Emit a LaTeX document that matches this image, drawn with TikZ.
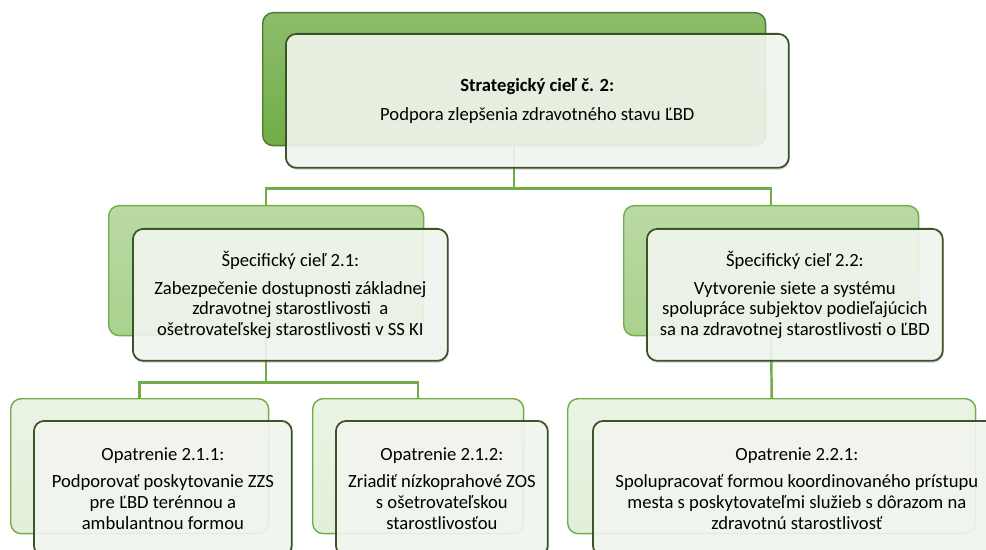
\documentclass[tikz,border=0pt]{standalone}
\usepackage{fontspec}
\setmainfont{Carlito}
\usetikzlibrary{positioning, calc, shadows}

\definecolor{leafgreen}{RGB}{112,173,71}
\definecolor{darkleaf}{RGB}{78,122,48}
\definecolor{midleaf}{RGB}{169,209,142}
\definecolor{paleleaf}{RGB}{226,239,217}
\definecolor{frontline}{RGB}{58,84,40}

\tikzset{
  backbox/.style={
    rectangle,
    rounded corners=6pt,
    line width=0.8pt,
    anchor=north west
  },
  topback/.style={backbox, draw=darkleaf, top color=leafgreen!80!white, bottom color=leafgreen},
  goalback/.style={backbox, draw=leafgreen, top color=midleaf!80!white, bottom color=midleaf},
  stepback/.style={backbox, draw=leafgreen, top color=paleleaf!70!white, bottom color=paleleaf},
  frontbox/.style={
    rectangle,
    rounded corners=6pt,
    draw=frontline,
    line width=1pt,
    fill=white!93!leafgreen,
    fill opacity=0.88,
    text opacity=1,
    drop shadow={opacity=0.25, shadow xshift=0.6pt, shadow yshift=-1.2pt},
    align=center,
    anchor=north west,
    font=\fontsize{10.6}{11.7}\selectfont
  },
  conn/.style={
    draw=leafgreen,
    line width=1.4pt
  }
}

\begin{document}
\begin{tikzpicture}[x=0.02cm, y=-0.02cm]
\useasboundingbox (0,0) rectangle (986,550);
\clip (0,0) rectangle (986,550);

% --- back boxes ---
\node (topback) [topback, minimum width=10.06cm, minimum height=2.66cm] at (262,12) {};
\node (goal1back) [goalback, minimum width=6.30cm, minimum height=2.60cm] at (108,205) {};
\node (goal2back) [goalback, minimum width=5.90cm, minimum height=2.60cm] at (623,205) {};
\node (m211back) [stepback, minimum width=5.16cm, minimum height=2.70cm] at (10,398) {};
\node (m212back) [stepback, minimum width=4.22cm, minimum height=2.70cm] at (312,398) {};
\node (m221back) [stepback, minimum width=8.16cm, minimum height=2.70cm] at (567,398) {};

% --- connectors ---
\coordinate (bus0) at ($(topback.south)+(0,42)$);
\coordinate (bus1) at ($(goal1back.south)+(0,46)$);
\draw[conn] (topback.south) -- (bus0) -| (goal1back.north);
\draw[conn] (bus0) -| (goal2back.north);
\draw[conn] (goal1back.south) -- (bus1) -| (m211back.north);
\draw[conn] (bus1) -| (m212back.north);
\draw[conn] (goal2back.south) -- (m221back.north);

% --- front boxes ---
\node (top) [frontbox, minimum width=10.06cm, minimum height=2.68cm] at (285,33)
  {\textbf{Strategický cieľ č. 2:}\\[5pt] Podpora zlepšenia zdravotného stavu ĽBD};
\node (goal1) [frontbox, minimum width=6.30cm, minimum height=2.64cm] at (132,228)
  {Špecifický cieľ 2.1:\\[4pt] Zabezpečenie dostupnosti základnej\\ zdravotnej starostlivosti~ a\\ ošetrovateľskej starostlivosti v SS KI};
\node (goal2) [frontbox, minimum width=5.92cm, minimum height=2.64cm] at (646,228)
  {Špecifický cieľ 2.2:\\[4pt] Vytvorenie siete a systému\\ spolupráce subjektov podieľajúcich\\ sa na zdravotnej starostlivosti o ĽBD};
\node (m211) [frontbox, minimum width=5.16cm, minimum height=2.70cm] at (33,420)
  {Opatrenie 2.1.1:\\[4pt] Podporovať poskytovanie ZZS\\ pre ĽBD terénnou a\\ ambulantnou formou};
\node (m212) [frontbox, minimum width=4.24cm, minimum height=2.70cm] at (335,420)
  {Opatrenie 2.1.2:\\[4pt] Zriadiť nízkoprahové ZOS\\ s ošetrovateľskou\\ starostlivosťou};
\node (m221) [frontbox, minimum width=8.16cm, minimum height=2.70cm] at (592,420)
  {Opatrenie 2.2.1:\\[4pt] Spolupracovať formou koordinovaného prístupu\\ mesta s poskytovateľmi služieb s dôrazom na\\ zdravotnú starostlivosť};

\end{tikzpicture}
\end{document}
